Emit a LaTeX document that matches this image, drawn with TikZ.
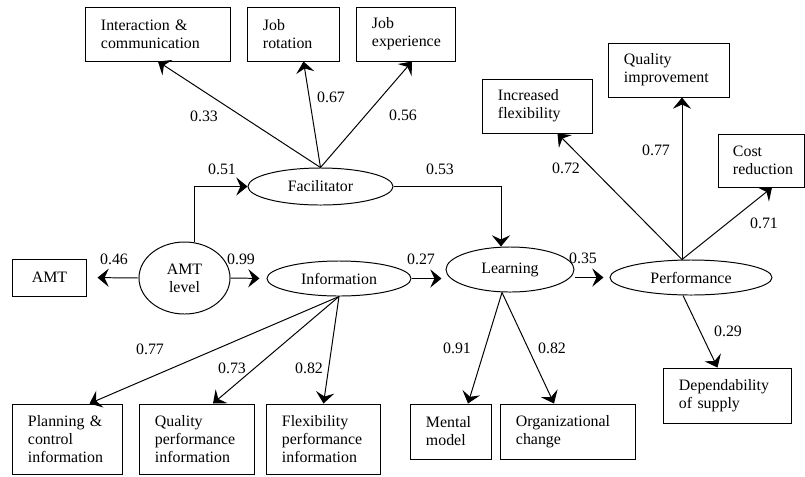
\documentclass[tikz,border=0pt]{standalone}
\usepackage{fontspec}
\setmainfont{Liberation Serif}
\usetikzlibrary{shapes.geometric, arrows.meta, positioning, calc}

\tikzset{
  obsbox/.style={draw, line width=0.7pt, rectangle, align=left, inner xsep=0.375cm, inner ysep=0pt},
  latent/.style={draw, line width=0.7pt, ellipse, inner sep=0pt, align=center},
  coef/.style={inner sep=1pt},
  link/.style={line width=0.7pt, -{Stealth[length=8pt, width=13pt, inset=3pt]}},
}

\begin{document}
\begin{tikzpicture}[x=0.025cm, y=-0.025cm, font=\fontsize{11.3}{12.8}\selectfont]
  \useasboundingbox (0,0) rectangle (805,476);

  % Latent variables
  \node[latent, minimum width=3.625cm, minimum height=0.925cm] (facil) at (320.5,186.5) {Facilitator};
  \node[latent, minimum width=2.275cm, minimum height=1.8cm] (amtlevel) at (184.5,278) {AMT\\level};
  \node[latent, minimum width=3.6cm, minimum height=0.875cm] (info) at (339,278.5) {Information};
  \node[latent, minimum width=3.2cm, minimum height=1.125cm] (learn) at (510,269.5) {Learning};
  \node[latent, minimum width=4.05cm, minimum height=0.875cm] (perf) at (691,277.5) {Performance};

  % Facilitator indicators
  \node[obsbox, text width=2.85cm, minimum height=1.35cm] (inter) at (158,34) {Interaction \&\\communication};
  \node[obsbox, text width=1.525cm, minimum height=1.35cm] (jobrot) at (293.5,34) {Job\\rotation};
  \node[obsbox, text width=1.7cm, minimum height=1.35cm] (jobexp) at (406,34) {Job\\experience};

  % AMT indicator
  \node[draw, line width=0.7pt, minimum width=1.825cm, minimum height=0.925cm] (amt) at (49.5,277.5) {AMT};

  % Information indicators
  \node[obsbox, text width=1.975cm, minimum height=1.75cm] (planning) at (67.5,439) {Planning \&\\control\\information};
  \node[obsbox, text width=2.1cm, minimum height=1.75cm] (qualperf) at (197,439) {Quality\\performance\\information};
  \node[obsbox, text width=2.075cm, minimum height=1.75cm] (flexperf) at (323.5,439) {Flexibility\\performance\\information};

  % Learning indicators
  \node[obsbox, text width=1.25cm, minimum height=1.375cm] (mental) at (451,431.5) {Mental\\model};
  \node[obsbox, text width=2.6cm, minimum height=1.375cm] (org) at (568,431.5) {Organizational\\change};

  % Performance indicators
  \node[obsbox, text width=1.975cm, minimum height=1.35cm] (incflex) at (537.5,106) {Increased\\flexibility};
  \node[obsbox, text width=2.25cm, minimum height=1.35cm] (qualimp) at (669,70) {Quality\\improvement};
  \node[obsbox, text width=1.4cm, minimum height=1.325cm] (cost) at (761,160.5) {Cost\\reduction};
  \node[obsbox, text width=2.425cm, minimum height=1.375cm] (depend) at (727.5,395.5) {Dependability\\of supply};

  % Facilitator paths
  \draw[link] (facil.north) -- (inter.south);
  \draw[link] (facil.north) -- ($(jobrot.south)+(10,0)$);
  \draw[link] (facil.north) -- ($(jobexp.south)+(6,0)$);
  \draw[link] (facil.east) -| ($(learn.north)+(-9,0)$);

  % AMT level paths
  \draw[link, shorten >=0.275cm] (amtlevel.west) -- (amt.east);
  \draw[link, shorten >=0.175cm] (amtlevel.east) -- (info.west);
  \draw[link] ($(amtlevel.north)+(9.5,0)$) |- (facil.west);

  % Information paths
  \draw[link, shorten >=0.1cm] (info.east) -- (info.east -| learn.west);
  \draw[link] (info.south) -- ($(planning.north)+(22,0)$);
  \draw[link] (info.south) -- ($(qualperf.north)+(16,0)$);
  \draw[link] (info.south) -- (flexperf.north);

  % Learning paths
  \draw[link, shorten >=0.15cm] (learn.east |- perf.west) -- (perf.west);
  \draw[link] ($(learn.south)+(-8,0)$) -- ($(mental.north)+(17,0)$);
  \draw[link] ($(learn.south)+(-8,0)$) -- ($(org.north)+(-14,0)$);

  % Performance paths
  \coordinate (ptop) at ($(perf.north)+(-9,0)$);
  \draw[link] (ptop) -- ($(incflex.south)+(20,0)$);
  \draw[link] (ptop) -- ($(qualimp.south)+(13,0)$);
  \draw[link] (ptop) -- ($(cost.south)+(11,0)$);
  \draw[link] ($(perf.south)+(-8,0)$) -- ($(depend.north)+(-10,0)$);

  % Coefficients
  \node[coef] (c-inter) at (204,116) {0.33};
  \node[coef] (c-jobrot) at (331,97) {0.67};
  \node[coef] (c-jobexp) at (403,115) {0.56};
  \node[coef] (c-facil) at (222,169) {0.51};
  \node[coef] (c-learnf) at (440,169) {0.53};
  \node[coef] (c-amt) at (114,259) {0.46};
  \node[coef] (c-info) at (241,259) {0.99};
  \node[coef] (c-learni) at (421,259) {0.27};
  \node[coef] (c-planning) at (150,349) {0.77};
  \node[coef] (c-qualperf) at (232,368) {0.73};
  \node[coef] (c-flexperf) at (309,368) {0.82};
  \node[coef] (c-mental) at (457,348) {0.91};
  \node[coef] (c-org) at (552,348) {0.82};
  \node[coef] (c-perf) at (583,258) {0.35};
  \node[coef] (c-incflex) at (566,168) {0.72};
  \node[coef] (c-qualimp) at (656,150) {0.77};
  \node[coef] (c-cost) at (764,223) {0.71};
  \node[coef] (c-depend) at (728,331) {0.29};
\end{tikzpicture}
\end{document}
